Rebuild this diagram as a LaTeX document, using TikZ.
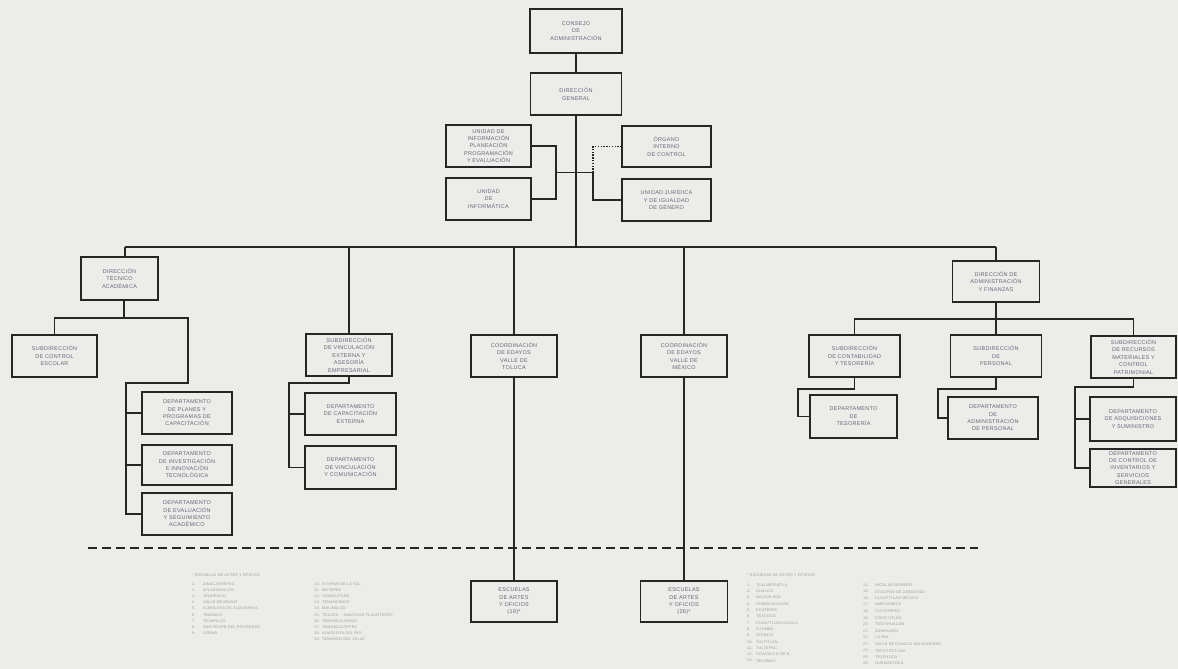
\documentclass[tikz,border=0pt]{standalone}
\usepackage{fontspec}
\newfontfamily\orgfont[LetterSpace=5]{Liberation Sans}
\definecolor{papel}{RGB}{236,236,233}
\definecolor{trazo}{RGB}{38,38,38}
\definecolor{letra}{RGB}{108,100,120}
\definecolor{gris}{RGB}{155,155,152}

\begin{document}
\begin{tikzpicture}[x=1pt,y=-1pt,
  caja/.style 2 args={draw=trazo, line width=1.3pt, align=center, text=letra,
    font=\orgfont\fontsize{5.5}{7.4}\selectfont, inner sep=1pt,
    minimum width=#1pt, minimum height=#2pt},
  conector/.style={draw=trazo, line width=1.1pt},
  punteado/.style={dash pattern=on 1.4pt off 1.4pt},
  lista/.style={text=gris, font=\orgfont\fontsize{3.8}{4.5}\selectfont, inner sep=0pt}]

\fill[papel] (0,0) rectangle (1178,669);

\node[caja={92}{44}] (consejo) at (576,31) {CONSEJO\\DE\\ADMINISTRACIÓN};
\node[caja={91}{42}] (general) at (576,94) {DIRECCIÓN\\GENERAL};
\node[caja={85}{42}] (uippe) at (488.5,146) {UNIDAD DE\\INFORMACIÓN\\PLANEACIÓN\\PROGRAMACIÓN\\Y EVALUACIÓN};
\node[caja={85}{42}] (informatica) at (488.5,199) {UNIDAD\\DE\\INFORMÁTICA};
\node[caja={89}{41}] (organo) at (666.5,146.5) {ÓRGANO\\INTERNO\\DE CONTROL};
\node[caja={89}{42}] (juridica) at (666.5,200) {UNIDAD JURÍDICA\\Y DE IGUALDAD\\DE GÉNERO};

\coordinate (bus) at (576,247);
\coordinate (busizq) at (125,247);
\coordinate (busder) at (996,247);
\coordinate (apoyoizq) at (556,172.5);
\coordinate (apoyoder) at (593,172.5);

\node[caja={77}{43}] (tecnica) at (119.5,278.5) {DIRECCIÓN\\TÉCNICO\\ACADÉMICA};
\node[caja={85}{42}] (escolar) at (54.5,356) {SUBDIRECCIÓN\\DE CONTROL\\ESCOLAR};
\node[caja={90}{42}] (planes) at (187,413) {DEPARTAMENTO\\DE PLANES Y\\PROGRAMAS DE\\CAPACITACIÓN};
\node[caja={90}{40}] (investigacion) at (187,465) {DEPARTAMENTO\\DE INVESTIGACIÓN\\E INNOVACIÓN\\TECNOLÓGICA};
\node[caja={90}{42}] (evaluacion) at (187,514) {DEPARTAMENTO\\DE EVALUACIÓN\\Y SEGUIMIENTO\\ACADÉMICO};

\node[caja={86}{42}] (vinculacion) at (349,355) {SUBDIRECCIÓN\\DE VINCULACIÓN\\EXTERNA Y\\ASESORÍA\\EMPRESARIAL};
\node[caja={91}{42}] (capacitacion) at (350.5,414) {DEPARTAMENTO\\DE CAPACITACIÓN\\EXTERNA};
\node[caja={91}{43}] (comunicacion) at (350.5,467.5) {DEPARTAMENTO\\DE VINCULACIÓN\\Y COMUNICACIÓN};

\node[caja={86}{42}] (toluca) at (514,356) {COORDINACIÓN\\DE EDAYOS\\VALLE DE\\TOLUCA};
\node[caja={86}{42}] (mexico) at (684,356) {COORDINACIÓN\\DE EDAYOS\\VALLE DE\\MÉXICO};
\node[caja={86}{41}] (edayotol) at (514,601.5) {ESCUELAS\\DE ARTES\\Y OFICIOS\\(19)*};
\node[caja={87}{41}] (edayomex) at (684,601.5) {ESCUELAS\\DE ARTES\\Y OFICIOS\\(26)*};

\node[caja={87}{41}] (finanzas) at (996,281.5) {DIRECCIÓN DE\\ADMINISTRACIÓN\\Y FINANZAS};
\node[caja={91}{42}] (contabilidad) at (854.5,356) {SUBDIRECCIÓN\\DE CONTABILIDAD\\Y TESORERÍA};
\node[caja={91}{42}] (personal) at (996,356) {SUBDIRECCIÓN\\DE\\PERSONAL};
\node[caja={85}{42}] (recursos) at (1133.5,357) {SUBDIRECCIÓN\\DE RECURSOS\\MATERIALES Y\\CONTROL\\PATRIMONIAL};
\node[caja={87}{43}] (tesoreria) at (853.5,416.5) {DEPARTAMENTO\\DE\\TESORERÍA};
\node[caja={90}{42}] (admpersonal) at (993,418) {DEPARTAMENTO\\DE\\ADMINISTRACIÓN\\DE PERSONAL};
\node[caja={86}{44}] (adquisiciones) at (1133,419) {DEPARTAMENTO\\DE ADQUISICIONES\\Y SUMINISTRO};
\node[caja={86}{38}] (inventarios) at (1133,468) {DEPARTAMENTO\\DE CONTROL DE\\INVENTARIOS Y\\SERVICIOS\\GENERALES};

\draw[conector] (consejo) -- (general);
\draw[conector] (general) -- (bus);
\draw[conector] (busizq) -- (busder);
\draw[conector] (uippe.east) -| (apoyoizq) |- (informatica.east);
\draw[conector] (apoyoizq) -- (apoyoder) |- (juridica.west);
\draw[conector, punteado] (apoyoder) |- (organo.west);

\draw[conector] (busizq) -- (busizq |- tecnica.north);
\draw[conector] (vinculacion.north) -- (vinculacion.north |- bus);
\draw[conector] (toluca.north) -- (toluca.north |- bus);
\draw[conector] (mexico.north) -- (mexico.north |- bus);
\draw[conector] (busder) -- (finanzas);

\coordinate (tecbus) at (124,318);
\coordinate (tecrama) at (188,383);
\coordinate (tecdep) at (126,383);
\draw[conector] (tecbus |- tecnica.south) -- (tecbus);
\draw[conector] (escolar.north) |- (tecbus) -| (tecrama) -- (tecdep) |- (evaluacion.west);
\draw[conector] (tecdep |- planes.west) -- (planes.west);
\draw[conector] (tecdep |- investigacion.west) -- (investigacion.west);

\coordinate (vinrama) at (289,383);
\draw[conector] (vinculacion.south) |- (vinrama) |- (comunicacion.west);
\draw[conector] (vinrama |- capacitacion.west) -- (capacitacion.west);

\draw[conector] (toluca) -- (edayotol);
\draw[conector] (mexico) -- (edayomex);

\coordinate (finbus) at (996,319);
\coordinate (contrama) at (798,389);
\coordinate (persrama) at (938,389);
\coordinate (recrama) at (1075,387);
\draw[conector] (finanzas) -- (finbus);
\draw[conector] (contabilidad.north) |- (finbus) -| (recursos.north);
\draw[conector] (finbus) -- (personal);
\draw[conector] (contabilidad.south) |- (contrama) |- (tesoreria.west);
\draw[conector] (personal.south) |- (persrama) |- (admpersonal.west);
\draw[conector] (recursos.south) |- (recrama) |- (inventarios.west);
\draw[conector] (recrama |- adquisiciones.west) -- (adquisiciones.west);

\draw[trazo, line width=1.5pt, dash pattern=on 9pt off 5pt] (88,548) -- (978,548);

\node[lista, anchor=west] (enctol) at (192,575.5) {* ESCUELAS DE ARTES Y OFICIOS};
\foreach \n/\t [count=\k from 0] in {1/ZINACANTEPEC, 2/ATLACOMULCO, 3/JIQUIPILCO, 4/VALLE DE BRAVO, 5/ALMOLOYA DE ALQUISIRAS, 6/TEMOAYA, 7/TEJUPILCO, 8/SAN FELIPE DEL PROGRESO, 9/LERMA}
{
  \node[lista, anchor=west] (numtol\n) at (192,{584+6.15*\k}) {\n.};
  \node[lista, anchor=west] (muntol\n) at (203,{584+6.15*\k}) {\t};
}
\foreach \n/\t [count=\k from 0] in {10/IXTAPAN DE LA SAL, 11/METEPEC, 12/XONACATLÁN, 13/TENANCINGO, 14/MALINALCO, 15/TOLUCA \quad SANTIAGO TLACOTEPEC, 16/TEMASCALCINGO, 17/TEMASCALTEPEC, 18/ALMOLOYA DEL RÍO, 19/TENANGO DEL VALLE}
{
  \node[lista, anchor=west] (numtol\n) at (314,{584+6.15*\k}) {\n.};
  \node[lista, anchor=west] (muntol\n) at (322,{584+6.15*\k}) {\t};
}

\node[lista, anchor=west] (encmex) at (747,575.5) {* ESCUELAS DE ARTES Y OFICIOS};
\foreach \n/\t [count=\k from 0] in {1/TLALNEPANTLA, 2/CHALCO, 3/NAUCALPAN, 4/CHIMALHUACÁN, 5/ECATEPEC, 6/TEXCOCO, 7/CUAUTITLÁN IZCALLI, 8/OTUMBA, 9/ATENCO, 10/TULTITLÁN, 11/TULTEPEC, 12/COACALCO DE B., 13/TECÁMAC}
{
  \node[lista, anchor=west] (nummex\n) at (747,{585+6.3*\k}) {\n.};
  \node[lista, anchor=west] (munmex\n) at (756,{585+6.3*\k}) {\t};
}
\foreach \n/\t [count=\k from 0] in {14/NICOLÁS ROMERO, 15/ATIZAPÁN DE ZARAGOZA, 16/CUAUTITLÁN MÉXICO, 17/AMECAMECA, 18/COYOTEPEC, 19/COCOTITLÁN, 20/TEOTIHUACÁN, 21/ZUMPANGO, 22/LA PAZ, 23/VALLE DE CHALCO SOLIDARIDAD, 24/TEPOTZOTLÁN, 25/TEZOYUCA, 26/HUEHUETOCA}
{
  \node[lista, anchor=west] (nummex\n) at (863,{585+6.55*\k}) {\n.};
  \node[lista, anchor=west] (munmex\n) at (875,{585+6.55*\k}) {\t};
}

\end{tikzpicture}
\end{document}
